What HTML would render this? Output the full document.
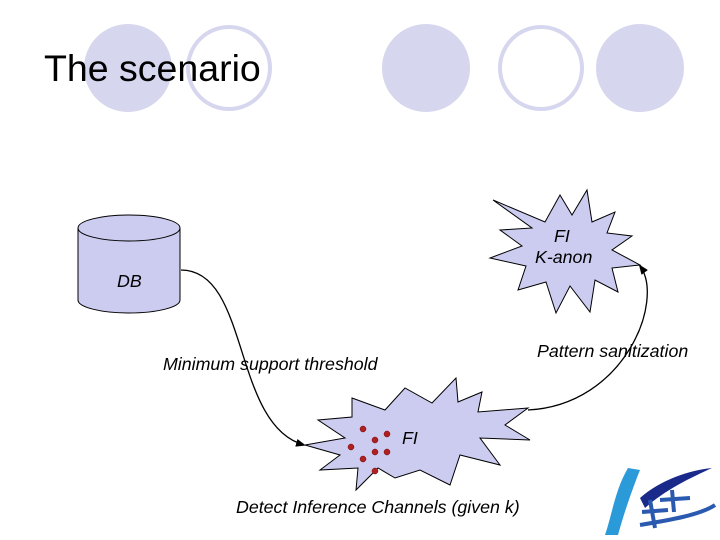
<!DOCTYPE html>
<html><head><style>
body{margin:0;width:720px;height:540px;background:#fff;overflow:hidden;position:relative;font-family:"Liberation Sans",sans-serif}
.t{position:absolute;font-style:italic;font-size:17.8px;color:#000;white-space:nowrap}
</style></head><body>
<svg width="720" height="540" style="position:absolute;left:0;top:0">
<defs><marker id="a" markerWidth="10" markerHeight="8" refX="8" refY="4" orient="auto" markerUnits="userSpaceOnUse"><path d="M0,0 L10,4 L0,8z" fill="#000"/></marker></defs>
<circle cx="128" cy="68" r="44" fill="#d6d6ee"/>
<circle cx="229" cy="68" r="41" fill="#fff" stroke="#d6d6ee" stroke-width="4"/>
<circle cx="426" cy="68" r="44" fill="#d6d6ee"/>
<circle cx="541" cy="68" r="41" fill="#fff" stroke="#d6d6ee" stroke-width="4"/>
<circle cx="640" cy="68" r="44" fill="#d6d6ee"/>
<path d="M78,228 L78,300 A51,13 0 0 0 180,300 L180,228" fill="#ccccf0" stroke="#000"/>
<ellipse cx="129" cy="228" rx="51" ry="13" fill="#ccccf0" stroke="#000"/>
<polygon points="493,200 545,222 560,195 572,215 587,190 592,222 615,212 607,233 632,236 612,250 640,265 612,268 618,292 595,280 590,312 570,286 556,313 546,282 518,290 526,266 490,258 522,246 500,230 532,228" fill="#ccccf0" stroke="#000"/>
<polygon points="305,445 345,438 318,420 352,417 352,398 385,410 405,388 432,403 456,378 458,402 482,392 478,412 528,408 505,425 530,440 480,438 500,465 460,455 450,485 420,470 395,478 378,468 356,490 358,468 320,470 340,455" fill="#ccccf0" stroke="#000"/>
<g fill="#b02020" stroke="#700" stroke-width="0.5">
<circle cx="363" cy="429" r="3"/><circle cx="387" cy="434" r="3"/><circle cx="375" cy="440" r="3"/><circle cx="351" cy="447" r="3"/><circle cx="375" cy="452" r="3"/><circle cx="387" cy="452" r="3"/><circle cx="363" cy="459" r="3"/><circle cx="375" cy="471" r="3"/>
</g>
<path d="M181,270 C250,270 232,425 304,445" fill="none" stroke="#000" stroke-width="1.3" marker-end="url(#a)"/>
<path d="M528,410 C625,405 665,300 640,266" fill="none" stroke="#000" stroke-width="1.3" marker-end="url(#a)"/>
<path d="M628,468 C615,490 612,515 605,535 L618,535 C625,510 632,490 640,470 Z" fill="#2a9ad8"/>
<path d="M640,498 C660,480 690,470 712,468 C690,478 665,490 645,508 Z" fill="#1a2a8a"/>
<path d="M650,500 L655,528 M642,512 L668,510 M672,490 L674,512 M660,500 L690,498 M640,525 C670,520 700,515 715,505" stroke="#2a5ab0" stroke-width="4" fill="none"/>
</svg>
<div style="position:absolute;left:44px;top:47px;font-size:37.5px;color:#000;white-space:nowrap">The scenario</div>
<div class="t" style="left:117px;top:271px">DB</div>
<div class="t" style="left:554px;top:226px">FI</div>
<div class="t" style="left:535px;top:247px">K-anon</div>
<div class="t" style="left:537px;top:341px">Pattern sanitization</div>
<div class="t" style="left:163px;top:354px">Minimum support threshold</div>
<div class="t" style="left:402px;top:428px">FI</div>
<div class="t" style="left:236px;top:497px">Detect Inference Channels (given k)</div>
</body></html>
